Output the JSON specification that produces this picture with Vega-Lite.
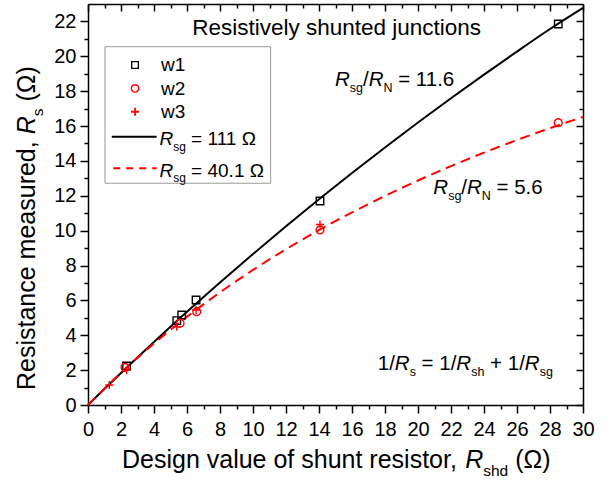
{
  "$schema": "https://vega.github.io/schema/vega-lite/v6.json",
  "width": 495,
  "height": 401,
  "autosize": {"type": "none"},
  "padding": {"left": 88, "top": 4, "right": 30, "bottom": 78},
  "background": "white",
  "config": {
    "view": {"stroke": null},
    "font": "Liberation Sans",
    "text": {"font": "Liberation Sans", "color": "#000000", "baseline": "alphabetic", "align": "left"}
  },
  "datasets": {
    "points": [
      {"x": 2.34, "y": 2.24, "w": "w1"}, {"x": 5.38, "y": 4.84, "w": "w1"}, {"x": 5.68, "y": 5.16, "w": "w1"},
      {"x": 6.55, "y": 6.02, "w": "w1"}, {"x": 14.06, "y": 11.7, "w": "w1"}, {"x": 28.5, "y": 21.85, "w": "w1"},
      {"x": 2.24, "y": 2.16, "w": "w2"}, {"x": 5.58, "y": 4.69, "w": "w2"}, {"x": 6.59, "y": 5.35, "w": "w2"},
      {"x": 14.06, "y": 10.04, "w": "w2"}, {"x": 28.5, "y": 16.19, "w": "w2"},
      {"x": 1.29, "y": 1.15, "w": "w3"}, {"x": 2.34, "y": 2.0, "w": "w3"}, {"x": 5.38, "y": 4.49, "w": "w3"},
      {"x": 6.55, "y": 5.45, "w": "w3"}, {"x": 14.06, "y": 10.35, "w": "w3"}
    ],
    "black": [
      {"x": 0, "y": 0}, {"x": 2, "y": 1.833}, {"x": 4, "y": 3.613}, {"x": 6, "y": 5.343}, {"x": 8, "y": 7.024},
      {"x": 10, "y": 8.659}, {"x": 12, "y": 10.249}, {"x": 14, "y": 11.797}, {"x": 16, "y": 13.303},
      {"x": 18, "y": 14.771}, {"x": 20, "y": 16.2}, {"x": 22, "y": 17.593}, {"x": 24, "y": 18.951},
      {"x": 26, "y": 20.275}, {"x": 28, "y": 21.567}, {"x": 30, "y": 22.78}
    ],
    "red": [
      {"x": 0, "y": 0}, {"x": 2, "y": 1.85}, {"x": 4, "y": 3.529}, {"x": 6, "y": 5.059}, {"x": 8, "y": 6.46},
      {"x": 10, "y": 7.747}, {"x": 12, "y": 8.933}, {"x": 14, "y": 10.03}, {"x": 16, "y": 11.048},
      {"x": 18, "y": 11.994}, {"x": 20, "y": 12.876}, {"x": 22, "y": 13.701}, {"x": 24, "y": 14.474},
      {"x": 26, "y": 15.199}, {"x": 28, "y": 15.881}, {"x": 30, "y": 16.524}
    ]
  },
  "resolve": {"axis": {"x": "independent", "y": "independent"}},
  "layer": [
    {
      "data": {"values": [{}]},
      "mark": {"type": "rect", "fill": "#ffffff", "stroke": "#999999", "strokeWidth": 1},
      "encoding": {
        "x": {"datum": 1.03, "type": "quantitative", "scale": {"domain": [0, 30], "nice": false, "zero": false},
          "axis": {"orient": "top", "values": [1,3,5,7,9,11,13,15,17,19,21,23,25,27,29], "tickSize": -4, "tickWidth": 1.5, "tickColor": "#000000", "domain": false, "labels": false, "grid": false, "title": null}},
        "x2": {"datum": 11.07},
        "y": {"datum": 20.55, "type": "quantitative", "scale": {"domain": [0, 23], "nice": false, "zero": false},
          "axis": {"orient": "right", "values": [1,3,5,7,9,11,13,15,17,19,21], "tickSize": -4, "tickWidth": 1.5, "tickColor": "#000000", "domain": false, "labels": false, "grid": false, "title": null}},
        "y2": {"datum": 12.72}
      }
    },
    {
      "data": {"name": "black"},
      "mark": {"type": "line", "color": "#000000", "strokeWidth": 2, "interpolate": "monotone"},
      "encoding": {
        "x": {"field": "x", "type": "quantitative", "scale": {"domain": [0, 30], "nice": false, "zero": false},
          "axis": {"orient": "bottom", "values": [0,2,4,6,8,10,12,14,16,18,20,22,24,26,28,30], "tickSize": 8, "tickWidth": 1.5, "tickColor": "#000000", "domain": true, "domainColor": "#000000", "domainWidth": 1.5, "labels": true, "labelFont": "Liberation Sans", "labelFontSize": 20, "labelColor": "#000000", "labelPadding": 6, "labelFlush": false, "labelOverlap": false, "grid": false, "title": null}},
        "y": {"field": "y", "type": "quantitative", "scale": {"domain": [0, 23], "nice": false, "zero": false},
          "axis": {"orient": "left", "values": [0,2,4,6,8,10,12,14,16,18,20,22], "tickSize": 8, "tickWidth": 1.5, "tickColor": "#000000", "domain": true, "domainColor": "#000000", "domainWidth": 1.5, "labels": true, "labelFont": "Liberation Sans", "labelFontSize": 20, "labelColor": "#000000", "labelPadding": 4, "labelFlush": false, "labelOverlap": false, "grid": false, "title": null}}
      }
    },
    {
      "data": {"name": "red"},
      "mark": {"type": "line", "color": "#ff0000", "strokeWidth": 2, "strokeDash": [10, 6], "interpolate": "monotone"},
      "encoding": {
        "x": {"field": "x", "type": "quantitative", "scale": {"domain": [0, 30], "nice": false, "zero": false},
          "axis": {"orient": "bottom", "values": [1,3,5,7,9,11,13,15,17,19,21,23,25,27,29], "tickSize": 4, "tickWidth": 1.5, "tickColor": "#000000", "domain": false, "labels": false, "grid": false, "title": null}},
        "y": {"field": "y", "type": "quantitative", "scale": {"domain": [0, 23], "nice": false, "zero": false},
          "axis": {"orient": "left", "values": [1,3,5,7,9,11,13,15,17,19,21], "tickSize": 4, "tickWidth": 1.5, "tickColor": "#000000", "domain": false, "labels": false, "grid": false, "title": null}}
      }
    },
    {
      "data": {"name": "points"},
      "mark": {"type": "point", "filled": false, "strokeWidth": 1.4, "opacity": 1},
      "encoding": {
        "x": {"field": "x", "type": "quantitative", "scale": {"domain": [0, 30], "nice": false, "zero": false},
          "axis": {"orient": "top", "values": [0,2,4,6,8,10,12,14,16,18,20,22,24,26,28,30], "tickSize": -7, "tickWidth": 1.5, "tickColor": "#000000", "domain": true, "domainColor": "#000000", "domainWidth": 1.5, "labels": false, "grid": false, "title": null}},
        "y": {"field": "y", "type": "quantitative", "scale": {"domain": [0, 23], "nice": false, "zero": false},
          "axis": {"orient": "right", "values": [0,2,4,6,8,10,12,14,16,18,20,22], "tickSize": -7, "tickWidth": 1.5, "tickColor": "#000000", "domain": true, "domainColor": "#000000", "domainWidth": 1.5, "labels": false, "grid": false, "title": null}},
        "shape": {"field": "w", "type": "nominal", "scale": {"domain": ["w1", "w2", "w3"], "range": ["square", "circle", "M-1,0L1,0M0,-1L0,1"]}, "legend": null},
        "color": {"field": "w", "type": "nominal", "scale": {"domain": ["w1", "w2", "w3"], "range": ["#000000", "#ff0000", "#ff0000"]}, "legend": null},
        "size": {"field": "w", "type": "nominal", "scale": {"domain": ["w1", "w2", "w3"], "range": [56, 66, 76]}, "legend": null}
      }
    },
    {
      "data": {"values": [{}]},
      "mark": {"type": "point", "shape": "square", "size": 45, "filled": false, "color": "#000000", "strokeWidth": 1.3, "opacity": 1},
      "encoding": {
        "x": {"datum": 2.85, "type": "quantitative", "scale": {"domain": [0, 30], "nice": false, "zero": false}, "axis": null},
        "y": {"datum": 19.5, "type": "quantitative", "scale": {"domain": [0, 23], "nice": false, "zero": false}, "axis": null}
      }
    },
    {
      "data": {"values": [{}]},
      "mark": {"type": "point", "shape": "circle", "size": 55, "filled": false, "color": "#ff0000", "strokeWidth": 1.4, "opacity": 1},
      "encoding": {
        "x": {"datum": 2.85, "type": "quantitative", "scale": {"domain": [0, 30], "nice": false, "zero": false}, "axis": null},
        "y": {"datum": 18.16, "type": "quantitative", "scale": {"domain": [0, 23], "nice": false, "zero": false}, "axis": null}
      }
    },
    {
      "data": {"values": [{}]},
      "mark": {"type": "point", "shape": "M-1,0L1,0M0,-1L0,1", "size": 64, "filled": false, "color": "#ff0000", "strokeWidth": 1.8, "opacity": 1},
      "encoding": {
        "x": {"datum": 2.85, "type": "quantitative", "scale": {"domain": [0, 30], "nice": false, "zero": false}, "axis": null},
        "y": {"datum": 16.82, "type": "quantitative", "scale": {"domain": [0, 23], "nice": false, "zero": false}, "axis": null}
      }
    },
    {
      "data": {"values": [{}]},
      "mark": {"type": "rule", "color": "#000000", "strokeWidth": 2},
      "encoding": {
        "x": {"datum": 1.44, "type": "quantitative", "scale": {"domain": [0, 30], "nice": false, "zero": false}, "axis": null},
        "x2": {"datum": 4.16},
        "y": {"datum": 15.39, "type": "quantitative", "scale": {"domain": [0, 23], "nice": false, "zero": false}, "axis": null}
      }
    },
    {
      "data": {"values": [{}]},
      "mark": {"type": "rule", "color": "#ff0000", "strokeWidth": 2, "strokeDash": [7, 6]},
      "encoding": {
        "x": {"datum": 1.53, "type": "quantitative", "scale": {"domain": [0, 30], "nice": false, "zero": false}, "axis": null},
        "x2": {"datum": 4.16},
        "y": {"datum": 13.58, "type": "quantitative", "scale": {"domain": [0, 23], "nice": false, "zero": false}, "axis": null}
      }
    },
    {"data": {"values": [{}]}, "mark": {"type": "text", "text": "w1", "fontSize": 19},
      "encoding": {"x": {"datum": 4.42, "type": "quantitative", "scale": {"domain": [0, 30], "nice": false, "zero": false}, "axis": null}, "y": {"datum": 19.17, "type": "quantitative", "scale": {"domain": [0, 23], "nice": false, "zero": false}, "axis": null}}},
    {"data": {"values": [{}]}, "mark": {"type": "text", "text": "w2", "fontSize": 19},
      "encoding": {"x": {"datum": 4.42, "type": "quantitative", "scale": {"domain": [0, 30], "nice": false, "zero": false}, "axis": null}, "y": {"datum": 17.8, "type": "quantitative", "scale": {"domain": [0, 23], "nice": false, "zero": false}, "axis": null}}},
    {"data": {"values": [{}]}, "mark": {"type": "text", "text": "w3", "fontSize": 19},
      "encoding": {"x": {"datum": 4.42, "type": "quantitative", "scale": {"domain": [0, 30], "nice": false, "zero": false}, "axis": null}, "y": {"datum": 16.45, "type": "quantitative", "scale": {"domain": [0, 23], "nice": false, "zero": false}, "axis": null}}},
    {"data": {"values": [{}]}, "mark": {"type": "text", "text": "R", "fontSize": 19, "fontStyle": "italic"},
      "encoding": {"x": {"datum": 4.33, "type": "quantitative", "scale": {"domain": [0, 30], "nice": false, "zero": false}, "axis": null}, "y": {"datum": 14.91, "type": "quantitative", "scale": {"domain": [0, 23], "nice": false, "zero": false}, "axis": null}}},
    {"data": {"values": [{}]}, "mark": {"type": "text", "text": "sg", "fontSize": 12, "dx": 13.72, "dy": 5.5},
      "encoding": {"x": {"datum": 4.33, "type": "quantitative", "scale": {"domain": [0, 30], "nice": false, "zero": false}, "axis": null}, "y": {"datum": 14.91, "type": "quantitative", "scale": {"domain": [0, 23], "nice": false, "zero": false}, "axis": null}}},
    {"data": {"values": [{}]}, "mark": {"type": "text", "text": "= 111 Ω", "fontSize": 19, "dx": 31.67},
      "encoding": {"x": {"datum": 4.33, "type": "quantitative", "scale": {"domain": [0, 30], "nice": false, "zero": false}, "axis": null}, "y": {"datum": 14.91, "type": "quantitative", "scale": {"domain": [0, 23], "nice": false, "zero": false}, "axis": null}}},
    {"data": {"values": [{}]}, "mark": {"type": "text", "text": "R", "fontSize": 19, "fontStyle": "italic"},
      "encoding": {"x": {"datum": 4.33, "type": "quantitative", "scale": {"domain": [0, 30], "nice": false, "zero": false}, "axis": null}, "y": {"datum": 13.09, "type": "quantitative", "scale": {"domain": [0, 23], "nice": false, "zero": false}, "axis": null}}},
    {"data": {"values": [{}]}, "mark": {"type": "text", "text": "sg", "fontSize": 12, "dx": 13.72, "dy": 5.5},
      "encoding": {"x": {"datum": 4.33, "type": "quantitative", "scale": {"domain": [0, 30], "nice": false, "zero": false}, "axis": null}, "y": {"datum": 13.09, "type": "quantitative", "scale": {"domain": [0, 23], "nice": false, "zero": false}, "axis": null}}},
    {"data": {"values": [{}]}, "mark": {"type": "text", "text": "= 40.1 Ω", "fontSize": 19, "dx": 31.67},
      "encoding": {"x": {"datum": 4.33, "type": "quantitative", "scale": {"domain": [0, 30], "nice": false, "zero": false}, "axis": null}, "y": {"datum": 13.09, "type": "quantitative", "scale": {"domain": [0, 23], "nice": false, "zero": false}, "axis": null}}},
    {"data": {"values": [{}]}, "mark": {"type": "text", "text": "Resistively shunted junctions", "fontSize": 22.5, "align": "center"},
      "encoding": {"x": {"datum": 15.07, "type": "quantitative", "scale": {"domain": [0, 30], "nice": false, "zero": false}, "axis": null}, "y": {"datum": 21.22, "type": "quantitative", "scale": {"domain": [0, 23], "nice": false, "zero": false}, "axis": null}}},
    {"data": {"values": [{}]}, "mark": {"type": "text", "text": "R", "fontSize": 20.5, "fontStyle": "italic"},
      "encoding": {"x": {"datum": 14.97, "type": "quantitative", "scale": {"domain": [0, 30], "nice": false, "zero": false}, "axis": null}, "y": {"datum": 18.3, "type": "quantitative", "scale": {"domain": [0, 23], "nice": false, "zero": false}, "axis": null}}},
    {"data": {"values": [{}]}, "mark": {"type": "text", "text": "sg", "fontSize": 12.5, "dx": 14.8, "dy": 6.5},
      "encoding": {"x": {"datum": 14.97, "type": "quantitative", "scale": {"domain": [0, 30], "nice": false, "zero": false}, "axis": null}, "y": {"datum": 18.3, "type": "quantitative", "scale": {"domain": [0, 23], "nice": false, "zero": false}, "axis": null}}},
    {"data": {"values": [{}]}, "mark": {"type": "text", "text": "/", "fontSize": 20.5, "dx": 28.0},
      "encoding": {"x": {"datum": 14.97, "type": "quantitative", "scale": {"domain": [0, 30], "nice": false, "zero": false}, "axis": null}, "y": {"datum": 18.3, "type": "quantitative", "scale": {"domain": [0, 23], "nice": false, "zero": false}, "axis": null}}},
    {"data": {"values": [{}]}, "mark": {"type": "text", "text": "R", "fontSize": 20.5, "fontStyle": "italic", "dx": 33.7},
      "encoding": {"x": {"datum": 14.97, "type": "quantitative", "scale": {"domain": [0, 30], "nice": false, "zero": false}, "axis": null}, "y": {"datum": 18.3, "type": "quantitative", "scale": {"domain": [0, 23], "nice": false, "zero": false}, "axis": null}}},
    {"data": {"values": [{}]}, "mark": {"type": "text", "text": "N", "fontSize": 12.5, "dx": 48.5, "dy": 6.5},
      "encoding": {"x": {"datum": 14.97, "type": "quantitative", "scale": {"domain": [0, 30], "nice": false, "zero": false}, "axis": null}, "y": {"datum": 18.3, "type": "quantitative", "scale": {"domain": [0, 23], "nice": false, "zero": false}, "axis": null}}},
    {"data": {"values": [{}]}, "mark": {"type": "text", "text": "= 11.6", "fontSize": 20.5, "dx": 63.2},
      "encoding": {"x": {"datum": 14.97, "type": "quantitative", "scale": {"domain": [0, 30], "nice": false, "zero": false}, "axis": null}, "y": {"datum": 18.3, "type": "quantitative", "scale": {"domain": [0, 23], "nice": false, "zero": false}, "axis": null}}},
    {"data": {"values": [{}]}, "mark": {"type": "text", "text": "R", "fontSize": 20.5, "fontStyle": "italic"},
      "encoding": {"x": {"datum": 20.93, "type": "quantitative", "scale": {"domain": [0, 30], "nice": false, "zero": false}, "axis": null}, "y": {"datum": 12.12, "type": "quantitative", "scale": {"domain": [0, 23], "nice": false, "zero": false}, "axis": null}}},
    {"data": {"values": [{}]}, "mark": {"type": "text", "text": "sg", "fontSize": 12.5, "dx": 14.8, "dy": 6.5},
      "encoding": {"x": {"datum": 20.93, "type": "quantitative", "scale": {"domain": [0, 30], "nice": false, "zero": false}, "axis": null}, "y": {"datum": 12.12, "type": "quantitative", "scale": {"domain": [0, 23], "nice": false, "zero": false}, "axis": null}}},
    {"data": {"values": [{}]}, "mark": {"type": "text", "text": "/", "fontSize": 20.5, "dx": 28.0},
      "encoding": {"x": {"datum": 20.93, "type": "quantitative", "scale": {"domain": [0, 30], "nice": false, "zero": false}, "axis": null}, "y": {"datum": 12.12, "type": "quantitative", "scale": {"domain": [0, 23], "nice": false, "zero": false}, "axis": null}}},
    {"data": {"values": [{}]}, "mark": {"type": "text", "text": "R", "fontSize": 20.5, "fontStyle": "italic", "dx": 33.7},
      "encoding": {"x": {"datum": 20.93, "type": "quantitative", "scale": {"domain": [0, 30], "nice": false, "zero": false}, "axis": null}, "y": {"datum": 12.12, "type": "quantitative", "scale": {"domain": [0, 23], "nice": false, "zero": false}, "axis": null}}},
    {"data": {"values": [{}]}, "mark": {"type": "text", "text": "N", "fontSize": 12.5, "dx": 48.5, "dy": 6.5},
      "encoding": {"x": {"datum": 20.93, "type": "quantitative", "scale": {"domain": [0, 30], "nice": false, "zero": false}, "axis": null}, "y": {"datum": 12.12, "type": "quantitative", "scale": {"domain": [0, 23], "nice": false, "zero": false}, "axis": null}}},
    {"data": {"values": [{}]}, "mark": {"type": "text", "text": "= 5.6", "fontSize": 20.5, "dx": 63.2},
      "encoding": {"x": {"datum": 20.93, "type": "quantitative", "scale": {"domain": [0, 30], "nice": false, "zero": false}, "axis": null}, "y": {"datum": 12.12, "type": "quantitative", "scale": {"domain": [0, 23], "nice": false, "zero": false}, "axis": null}}},
    {"data": {"values": [{}]}, "mark": {"type": "text", "text": "1/", "fontSize": 20.5},
      "encoding": {"x": {"datum": 17.56, "type": "quantitative", "scale": {"domain": [0, 30], "nice": false, "zero": false}, "axis": null}, "y": {"datum": 2.01, "type": "quantitative", "scale": {"domain": [0, 23], "nice": false, "zero": false}, "axis": null}}},
    {"data": {"values": [{}]}, "mark": {"type": "text", "text": "R", "fontSize": 20.5, "fontStyle": "italic", "dx": 17.1},
      "encoding": {"x": {"datum": 17.56, "type": "quantitative", "scale": {"domain": [0, 30], "nice": false, "zero": false}, "axis": null}, "y": {"datum": 2.01, "type": "quantitative", "scale": {"domain": [0, 23], "nice": false, "zero": false}, "axis": null}}},
    {"data": {"values": [{}]}, "mark": {"type": "text", "text": "s", "fontSize": 12.5, "dx": 31.9, "dy": 6.5},
      "encoding": {"x": {"datum": 17.56, "type": "quantitative", "scale": {"domain": [0, 30], "nice": false, "zero": false}, "axis": null}, "y": {"datum": 2.01, "type": "quantitative", "scale": {"domain": [0, 23], "nice": false, "zero": false}, "axis": null}}},
    {"data": {"values": [{}]}, "mark": {"type": "text", "text": "= 1/", "fontSize": 20.5, "dx": 43.85},
      "encoding": {"x": {"datum": 17.56, "type": "quantitative", "scale": {"domain": [0, 30], "nice": false, "zero": false}, "axis": null}, "y": {"datum": 2.01, "type": "quantitative", "scale": {"domain": [0, 23], "nice": false, "zero": false}, "axis": null}}},
    {"data": {"values": [{}]}, "mark": {"type": "text", "text": "R", "fontSize": 20.5, "fontStyle": "italic", "dx": 78.62},
      "encoding": {"x": {"datum": 17.56, "type": "quantitative", "scale": {"domain": [0, 30], "nice": false, "zero": false}, "axis": null}, "y": {"datum": 2.01, "type": "quantitative", "scale": {"domain": [0, 23], "nice": false, "zero": false}, "axis": null}}},
    {"data": {"values": [{}]}, "mark": {"type": "text", "text": "sh", "fontSize": 12.5, "dx": 93.42, "dy": 6.5},
      "encoding": {"x": {"datum": 17.56, "type": "quantitative", "scale": {"domain": [0, 30], "nice": false, "zero": false}, "axis": null}, "y": {"datum": 2.01, "type": "quantitative", "scale": {"domain": [0, 23], "nice": false, "zero": false}, "axis": null}}},
    {"data": {"values": [{}]}, "mark": {"type": "text", "text": "+ 1/", "fontSize": 20.5, "dx": 112.32},
      "encoding": {"x": {"datum": 17.56, "type": "quantitative", "scale": {"domain": [0, 30], "nice": false, "zero": false}, "axis": null}, "y": {"datum": 2.01, "type": "quantitative", "scale": {"domain": [0, 23], "nice": false, "zero": false}, "axis": null}}},
    {"data": {"values": [{}]}, "mark": {"type": "text", "text": "R", "fontSize": 20.5, "fontStyle": "italic", "dx": 147.09},
      "encoding": {"x": {"datum": 17.56, "type": "quantitative", "scale": {"domain": [0, 30], "nice": false, "zero": false}, "axis": null}, "y": {"datum": 2.01, "type": "quantitative", "scale": {"domain": [0, 23], "nice": false, "zero": false}, "axis": null}}},
    {"data": {"values": [{}]}, "mark": {"type": "text", "text": "sg", "fontSize": 12.5, "dx": 161.89, "dy": 6.5},
      "encoding": {"x": {"datum": 17.56, "type": "quantitative", "scale": {"domain": [0, 30], "nice": false, "zero": false}, "axis": null}, "y": {"datum": 2.01, "type": "quantitative", "scale": {"domain": [0, 23], "nice": false, "zero": false}, "axis": null}}},
    {"data": {"values": [{}]}, "mark": {"type": "text", "text": "Design value of shunt resistor,", "fontSize": 25},
      "encoding": {"x": {"datum": 2.06, "type": "quantitative", "scale": {"domain": [0, 30], "nice": false, "zero": false}, "axis": null}, "y": {"datum": -3.613, "type": "quantitative", "scale": {"domain": [0, 23], "nice": false, "zero": false}, "axis": null}}},
    {"data": {"values": [{}]}, "mark": {"type": "text", "text": "R", "fontSize": 25, "fontStyle": "italic", "dx": 343.2},
      "encoding": {"x": {"datum": 2.06, "type": "quantitative", "scale": {"domain": [0, 30], "nice": false, "zero": false}, "axis": null}, "y": {"datum": -3.613, "type": "quantitative", "scale": {"domain": [0, 23], "nice": false, "zero": false}, "axis": null}}},
    {"data": {"values": [{}]}, "mark": {"type": "text", "text": "shd", "fontSize": 15.5, "dx": 361.25, "dy": 8},
      "encoding": {"x": {"datum": 2.06, "type": "quantitative", "scale": {"domain": [0, 30], "nice": false, "zero": false}, "axis": null}, "y": {"datum": -3.613, "type": "quantitative", "scale": {"domain": [0, 23], "nice": false, "zero": false}, "axis": null}}},
    {"data": {"values": [{}]}, "mark": {"type": "text", "text": "(Ω)", "fontSize": 25, "dx": 393.2},
      "encoding": {"x": {"datum": 2.06, "type": "quantitative", "scale": {"domain": [0, 30], "nice": false, "zero": false}, "axis": null}, "y": {"datum": -3.613, "type": "quantitative", "scale": {"domain": [0, 23], "nice": false, "zero": false}, "axis": null}}},
    {"data": {"values": [{}]}, "mark": {"type": "text", "text": "Resistance measured,", "fontSize": 25, "angle": 270},
      "encoding": {"x": {"datum": -3.21, "type": "quantitative", "scale": {"domain": [0, 30], "nice": false, "zero": false}, "axis": null}, "y": {"datum": 0.86, "type": "quantitative", "scale": {"domain": [0, 23], "nice": false, "zero": false}, "axis": null}}},
    {"data": {"values": [{}]}, "mark": {"type": "text", "text": "R", "fontSize": 25, "fontStyle": "italic", "angle": 270, "dx": 255.65},
      "encoding": {"x": {"datum": -3.21, "type": "quantitative", "scale": {"domain": [0, 30], "nice": false, "zero": false}, "axis": null}, "y": {"datum": 0.86, "type": "quantitative", "scale": {"domain": [0, 23], "nice": false, "zero": false}, "axis": null}}},
    {"data": {"values": [{}]}, "mark": {"type": "text", "text": "s", "fontSize": 15.5, "angle": 270, "dx": 273.7, "dy": 8},
      "encoding": {"x": {"datum": -3.21, "type": "quantitative", "scale": {"domain": [0, 30], "nice": false, "zero": false}, "axis": null}, "y": {"datum": 0.86, "type": "quantitative", "scale": {"domain": [0, 23], "nice": false, "zero": false}, "axis": null}}},
    {"data": {"values": [{}]}, "mark": {"type": "text", "text": "(Ω)", "fontSize": 25, "angle": 270, "dx": 288.4},
      "encoding": {"x": {"datum": -3.21, "type": "quantitative", "scale": {"domain": [0, 30], "nice": false, "zero": false}, "axis": null}, "y": {"datum": 0.86, "type": "quantitative", "scale": {"domain": [0, 23], "nice": false, "zero": false}, "axis": null}}}
  ]
}
